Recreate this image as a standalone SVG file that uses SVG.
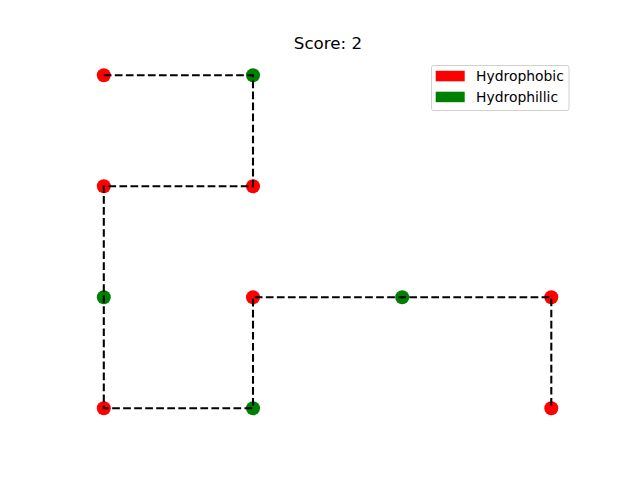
<svg xmlns="http://www.w3.org/2000/svg" width="640" height="480" viewBox="0 0 640 480">
<style>
.h{fill:#ff0000}
.p{fill:#008000}
.ln{fill:none;stroke:#000;stroke-width:2.08;stroke-dasharray:7.7 3.33}
text{font-family:"DejaVu Sans",sans-serif;fill:#000}
</style>
<rect width="640" height="480" fill="#fff"/>
<text x="328" y="49" font-size="16.7" text-anchor="middle">Score: 2</text>
<g id="nodes">
<circle id="n1" class="h" cx="103.8" cy="75.3" r="7"/>
<circle id="n2" class="p" cx="253" cy="75.3" r="7"/>
<circle id="n3" class="h" cx="253" cy="186.3" r="7"/>
<circle id="n4" class="h" cx="103.8" cy="186.3" r="7"/>
<circle id="n5" class="p" cx="103.8" cy="297.3" r="7"/>
<circle id="n6" class="h" cx="103.8" cy="408.3" r="7"/>
<circle id="n7" class="p" cx="253" cy="408.3" r="7"/>
<circle id="n8" class="h" cx="253" cy="297.3" r="7"/>
<circle id="n9" class="p" cx="402.2" cy="297.3" r="7"/>
<circle id="n10" class="h" cx="551.3" cy="297.3" r="7"/>
<circle id="n11" class="h" cx="551.3" cy="408.3" r="7"/>
</g>
<g id="connectors">
<path class="ln" d="M103.8 75.3H253V186.3H103.8V297.3V408.3H253V297.3H402.2H551.3V408.3"/>
</g>
<g id="legend">
<rect x="431.5" y="65.5" width="137.5" height="45" rx="2" fill="#fff" fill-opacity="0.8" stroke="#d0d0d0" stroke-width="1"/>
<rect class="h" x="435.7" y="70.8" width="29" height="10.5"/>
<rect class="p" x="435.7" y="91.7" width="29" height="10.5"/>
<text x="476" y="81.3" font-size="13.9">Hydrophobic</text>
<text x="476" y="102.2" font-size="13.9">Hydrophillic</text>
</g>
</svg>
